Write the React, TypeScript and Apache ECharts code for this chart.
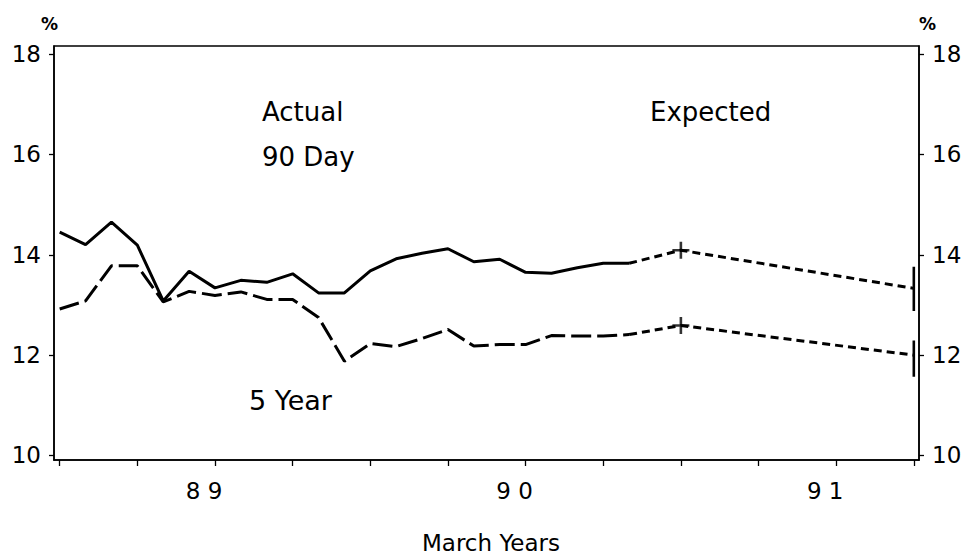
import React, { useEffect, useRef } from "react";
import * as echarts from "echarts";

// Month index: 0 = September 1988, monthly observations
const actualMonths = [0, 1, 2, 3, 4, 5, 6, 7, 8, 9, 10, 11, 12, 13, 14, 15, 16, 17, 18, 19, 20, 21, 22];
const ninetyDayActual = [14.45, 14.2, 14.65, 14.19, 13.08, 13.67, 13.34, 13.49, 13.45, 13.62, 13.24, 13.24, 13.68, 13.92, 14.03, 14.12, 13.86, 13.91, 13.65, 13.63, 13.74, 13.83, 13.83];
const fiveYearActual = [12.92, 13.08, 13.78, 13.78, 13.06, 13.27, 13.19, 13.26, 13.11, 13.11, 12.75, 11.88, 12.23, 12.17, 12.33, 12.51, 12.18, 12.21, 12.21, 12.39, 12.38, 12.38, 12.41];

const expectedMonths = [22, 24, 33];
const ninetyDayExpected = [13.83, 14.09, 13.33];
const fiveYearExpected = [12.41, 12.59, 12.0];

const markerMonth = 24;
const rangeMonth = 33;
const ninetyDayRange = [12.88, 13.76];
const fiveYearRange = [11.57, 12.29];

const tickMonths = [0, 3, 6, 9, 12, 15, 18, 21, 24, 27, 30, 33];
const labelMonths = [6, 18, 30];
const yearLabels = ["8 9", "9 0", "9 1"];
const yTicks = [10, 12, 14, 16, 18];

const FONT = "DejaVu Sans";

export default function App() {
  const ref = useRef<HTMLDivElement>(null);
  useEffect(() => {
    if (!ref.current) return;
    const chart = echarts.init(ref.current, null, { renderer: "svg" });
    const pairs = (xs: number[], ys: number[]) => xs.map((x, i) => [x, ys[i]]);
    const yAxisCommon = {
      type: "value",
      min: 9.91,
      max: 18.16,
      splitLine: { show: false },
      axisLine: { show: true, onZero: false, lineStyle: { color: "#000", width: 1.5 } },
      axisTick: { show: true, length: 5, customValues: yTicks, lineStyle: { color: "#000", width: 1.3 } },
      axisLabel: {
        customValues: yTicks,
        color: "#000",
        fontFamily: FONT,
        fontSize: 23,
        margin: 13,
      },
    };
    chart.setOption({
      animation: false,
      backgroundColor: "#fff",
      grid: { left: 54, right: 49, top: 46, bottom: 92.5, show: true, borderColor: "#000", borderWidth: 1.5 },
      xAxis: {
        type: "value",
        min: -0.22,
        max: 33.2,
        splitLine: { show: false },
        axisLine: { show: true, onZero: false, lineStyle: { color: "#000", width: 1.5 } },
        axisTick: { show: true, length: 6, customValues: tickMonths, lineStyle: { color: "#000", width: 1.3 } },
        axisLabel: {
          customValues: labelMonths,
          formatter: (v: number) => yearLabels[labelMonths.indexOf(Math.round(v))] ?? "",
          color: "#000",
          fontFamily: FONT,
          fontSize: 23,
          margin: 19,
          padding: [0, 22, 0, 0],
        },
        name: "March Years",
        nameLocation: "middle",
        nameGap: 71,
        nameTextStyle: { color: "#000", fontFamily: FONT, fontSize: 23, padding: [0, 0, 0, 9] },
      },
      yAxis: [
        { ...yAxisCommon, position: "left" },
        { ...yAxisCommon, position: "right" },
      ],
      graphic: [
        { type: "text", left: 262, top: 99, style: { text: "Actual", fontFamily: FONT, fontSize: 26, fill: "#000" } },
        { type: "text", left: 262, top: 144, style: { text: "90 Day", fontFamily: FONT, fontSize: 26, fill: "#000" } },
        { type: "text", left: 650, top: 99, style: { text: "Expected", fontFamily: FONT, fontSize: 26, fill: "#000" } },
        { type: "text", left: 249, top: 387, style: { text: "5 Year", fontFamily: FONT, fontSize: 27, fill: "#000" } },
        { type: "text", left: 41, top: 15, style: { text: "%", fontFamily: FONT, fontSize: 17, fontWeight: "bold", fill: "#000" } },
        { type: "text", left: 919, top: 15, style: { text: "%", fontFamily: FONT, fontSize: 17, fontWeight: "bold", fill: "#000" } },
      ],
      series: [
        {
          name: "90 Day actual",
          type: "line",
          data: pairs(actualMonths, ninetyDayActual),
          showSymbol: false,
          lineStyle: { color: "#000", width: 3, type: "solid" },
          z: 3,
        },
        {
          name: "5 Year actual",
          type: "line",
          data: pairs(actualMonths, fiveYearActual),
          showSymbol: false,
          lineStyle: { color: "#000", width: 3, type: [20, 6] },
          z: 3,
        },
        {
          name: "90 Day expected",
          type: "line",
          data: pairs(expectedMonths, ninetyDayExpected),
          showSymbol: false,
          lineStyle: { color: "#000", width: 3, type: [8, 5] },
          z: 3,
        },
        {
          name: "5 Year expected",
          type: "line",
          data: pairs(expectedMonths, fiveYearExpected),
          showSymbol: false,
          lineStyle: { color: "#000", width: 3, type: [8, 5] },
          z: 3,
        },
        {
          name: "90 Day range",
          type: "line",
          data: ninetyDayRange.map((v) => [rangeMonth, v]),
          showSymbol: false,
          lineStyle: { color: "#000", width: 2.6 },
          z: 4,
        },
        {
          name: "5 Year range",
          type: "line",
          data: fiveYearRange.map((v) => [rangeMonth, v]),
          showSymbol: false,
          lineStyle: { color: "#000", width: 2.6 },
          z: 4,
        },
        {
          name: "markers",
          type: "scatter",
          data: [
            [markerMonth, ninetyDayExpected[expectedMonths.indexOf(markerMonth)]],
            [markerMonth, fiveYearExpected[expectedMonths.indexOf(markerMonth)]],
          ],
          symbol: "path://M5,0 L5,10 M0,5 L10,5",
          symbolSize: 17,
          itemStyle: { color: "rgba(0,0,0,0)", borderColor: "#000", borderWidth: 2.6 },
          z: 5,
        },
      ],
    });
    return () => chart.dispose();
  }, []);
  return (
    <div
      ref={ref}
      style={{ position: "fixed", left: 0, top: 0, width: 968, height: 559, background: "#fff" }}
    />
  );
}
